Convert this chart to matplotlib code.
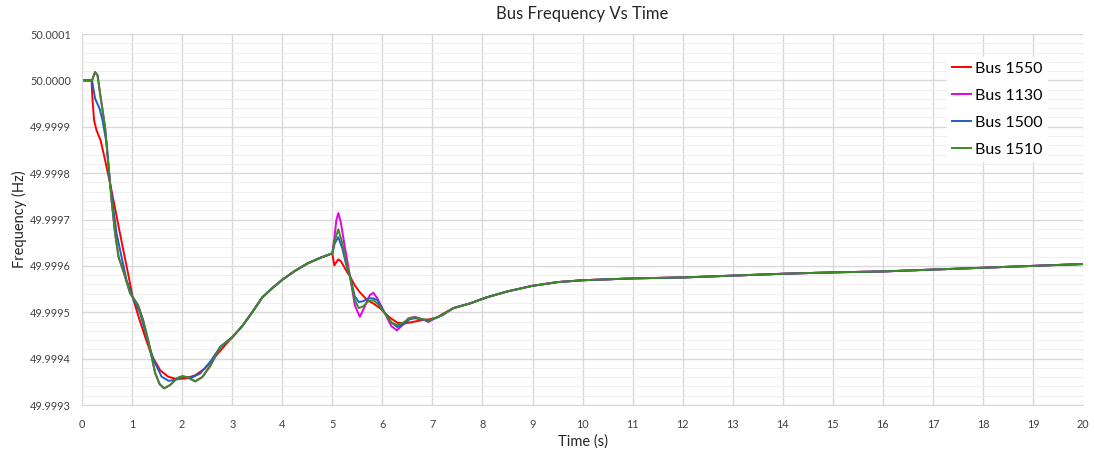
import numpy as np
import matplotlib
matplotlib.use("Agg")
import matplotlib.pyplot as plt
from matplotlib.ticker import FormatStrFormatter, MultipleLocator

plt.rcParams['font.family'] = ['Lato', 'DejaVu Sans']

# per-bus response before the second event (0 - 3 s)
t_1550_a = [0, 0.19, 0.21, 0.24, 0.29, 0.37, 0.46, 0.56, 0.66, 0.73, 0.83, 0.93, 1.01, 1.13,
            1.26, 1.39, 1.56, 1.72, 1.89, 2.06, 2.26, 2.46, 2.66, 2.89, 3.0]
f_1550_a = [50.000000, 50.000000, 49.999957, 49.999914, 49.999892, 49.999871, 49.999828,
            49.999778, 49.999724, 49.999685, 49.999631, 49.999578, 49.999533, 49.999490,
            49.999447, 49.999407, 49.999375, 49.999361, 49.999356, 49.999357, 49.999364,
            49.999379, 49.999404, 49.999433, 49.999446]

t_1500_a = [0, 0.2, 0.26, 0.35, 0.41, 0.49, 0.56, 0.63, 0.69, 0.79, 0.89, 1.01, 1.16, 1.29,
            1.43, 1.59, 1.73, 1.89, 2.02, 2.19, 2.36, 2.56, 2.76, 3.0]
f_1500_a = [50.000000, 50.000000, 49.999961, 49.999939, 49.999914, 49.999864, 49.999778,
            49.999720, 49.999670, 49.999619, 49.999569, 49.999533, 49.999498, 49.999447,
            49.999397, 49.999361, 49.999352, 49.999355, 49.999361, 49.999359, 49.999368,
            49.999393, 49.999425, 49.999446]

t_1510_a = [0, 0.2, 0.26, 0.31, 0.36, 0.46, 0.56, 0.59, 0.66, 0.73, 0.83, 0.96, 1.12, 1.22,
            1.32, 1.46, 1.55, 1.64, 1.76, 1.9, 2.0, 2.1, 2.26, 2.4, 2.56, 2.76, 3.0]
f_1510_a = [50.000000, 50.000000, 50.000018, 50.000011, 49.999972, 49.999899, 49.999778,
            49.999741, 49.999670, 49.999619, 49.999587, 49.999541, 49.999515, 49.999483,
            49.999440, 49.999369, 49.999345, 49.999336, 49.999343, 49.999358, 49.999362,
            49.999360, 49.999351, 49.999360, 49.999384, 49.999425, 49.999446]

# bus 1130 sits right under bus 1510 here
t_1130_a = t_1510_a
f_1130_a = f_1510_a

# common recovery 3.2 - 5.0 s
t_mid = [3.2, 3.4, 3.6, 3.8, 4.0, 4.25, 4.5, 4.75, 5.0]
f_mid = [49.999470, 49.999500, 49.999532, 49.999552, 49.999570, 49.999589, 49.999605,
         49.999617, 49.999627]

# per-bus response after the event at 5 s
t_1550_b = [5.04, 5.08, 5.12, 5.17, 5.22, 5.3, 5.35, 5.45, 5.55, 5.7, 5.82, 5.95, 6.05,
            6.18, 6.31, 6.45, 6.6, 6.8, 6.95, 7.1, 7.2]
f_1550_b = [49.999601, 49.999608, 49.999614, 49.999610, 49.999601, 49.999586, 49.999578,
            49.999558, 49.999543, 49.999526, 49.999519, 49.999509, 49.999498, 49.999486,
            49.999477, 49.999476, 49.999479, 49.999483, 49.999485, 49.999489, 49.999496]

t_1130_b = [5.04, 5.08, 5.12, 5.17, 5.25, 5.35, 5.45, 5.55, 5.65, 5.75, 5.82, 5.9, 6.05,
            6.18, 6.29, 6.4, 6.52, 6.65, 6.8, 6.92, 7.05, 7.2]
f_1130_b = [49.999659, 49.999698, 49.999714, 49.999694, 49.999641, 49.999580, 49.999515,
            49.999490, 49.999513, 49.999537, 49.999542, 49.999530, 49.999498, 49.999470,
            49.999461, 49.999472, 49.999487, 49.999490, 49.999485, 49.999479, 49.999487,
            49.999494]

t_1500_b = [5.05, 5.12, 5.2, 5.28, 5.35, 5.45, 5.53, 5.62, 5.72, 5.82, 5.9, 6.05, 6.18,
            6.3, 6.42, 6.55, 6.65, 6.8, 6.95, 7.1, 7.2]
f_1500_b = [49.999649, 49.999662, 49.999638, 49.999601, 49.999580, 49.999534, 49.999522,
            49.999524, 49.999530, 49.999530, 49.999526, 49.999498, 49.999478, 49.999468,
            49.999474, 49.999485, 49.999487, 49.999484, 49.999483, 49.999489, 49.999494]

t_1510_b = [5.05, 5.12, 5.2, 5.28, 5.35, 5.45, 5.53, 5.62, 5.72, 5.82, 5.92, 6.05, 6.18,
            6.3, 6.42, 6.55, 6.65, 6.8, 6.95, 7.1, 7.2]
f_1510_b = [49.999655, 49.999679, 49.999649, 49.999606, 49.999578, 49.999526, 49.999509,
            49.999513, 49.999524, 49.999526, 49.999517, 49.999498, 49.999478, 49.999472,
            49.999478, 49.999487, 49.999489, 49.999485, 49.999483, 49.999489, 49.999494]

# common slow recovery 7.4 - 20 s
t_tail = [7.42, 7.75, 8.08, 8.5, 9.0, 9.5, 10, 11, 12, 13, 14, 15, 16, 17, 18, 19, 20]
f_tail = [49.999509, 49.999519, 49.999532, 49.999545, 49.999557, 49.999565, 49.999569,
          49.999573, 49.999575, 49.999579, 49.999583, 49.999586, 49.999588, 49.999592,
          49.999596, 49.999600, 49.999604]

buses = ['Bus 1550', 'Bus 1130', 'Bus 1500', 'Bus 1510']
colors = ['#ff0000', '#e600e6', '#1f5fc4', '#3c8a24']
t_early = [t_1550_a, t_1130_a, t_1500_a, t_1510_a]
f_early = [f_1550_a, f_1130_a, f_1500_a, f_1510_a]
t_late = [t_1550_b, t_1130_b, t_1500_b, t_1510_b]
f_late = [f_1550_b, f_1130_b, f_1500_b, f_1510_b]

y_ticks = [49.9993, 49.9994, 49.9995, 49.9996, 49.9997, 49.9998, 49.9999, 50.0000, 50.0001]

fig = plt.figure(figsize=(10.94, 4.5), dpi=100)
ax = fig.add_axes([0.075, 0.1, 0.915, 0.8244])

for name, c, ta, fa, tb, fb in zip(buses, colors, t_early, f_early, t_late, f_late):
  t = ta + t_mid + tb + t_tail
  f = fa + f_mid + fb + f_tail
  ax.plot(t, f, color=c, lw=1.4, label=name, solid_joinstyle='round')

ax.set_xlim(0, 20)
ax.set_ylim(49.9993, 50.0001)
ax.set_xticks(range(0, 21))
ax.set_yticks(y_ticks)
ax.yaxis.set_major_formatter(FormatStrFormatter('%.4f'))
ax.yaxis.set_minor_locator(MultipleLocator(0.00002))
ax.grid(which='major', color='#d9d9d9', lw=1.0)
ax.grid(which='minor', axis='y', color='#efefef', lw=0.8)
ax.set_axisbelow(True)
ax.tick_params(which='both', length=0, labelsize=7.8, colors='#404040')
ax.tick_params(axis='x', pad=10)
ax.tick_params(axis='y', pad=8)
for s in ax.spines.values():
  s.set_visible(False)
ax.spines['bottom'].set_visible(True)
ax.spines['bottom'].set_color('#d9d9d9')
ax.spines['left'].set_visible(True)
ax.spines['left'].set_color('#d9d9d9')

ax.set_title('Bus Frequency Vs Time', fontsize=12, color='#262626', pad=11)
ax.set_xlabel('Time (s)', fontsize=10.5, color='#262626', labelpad=3)
ax.set_ylabel('Frequency (Hz)', fontsize=10.5, color='#262626', labelpad=2)

leg = ax.legend(loc='upper right', bbox_to_anchor=(0.972, 0.96), fontsize=11.5,
                frameon=True, framealpha=1, edgecolor='white', fancybox=False,
                handlelength=1.2, handletextpad=0.2, labelspacing=0.8, borderpad=0.3)

fig.savefig('out.png', dpi=100)
